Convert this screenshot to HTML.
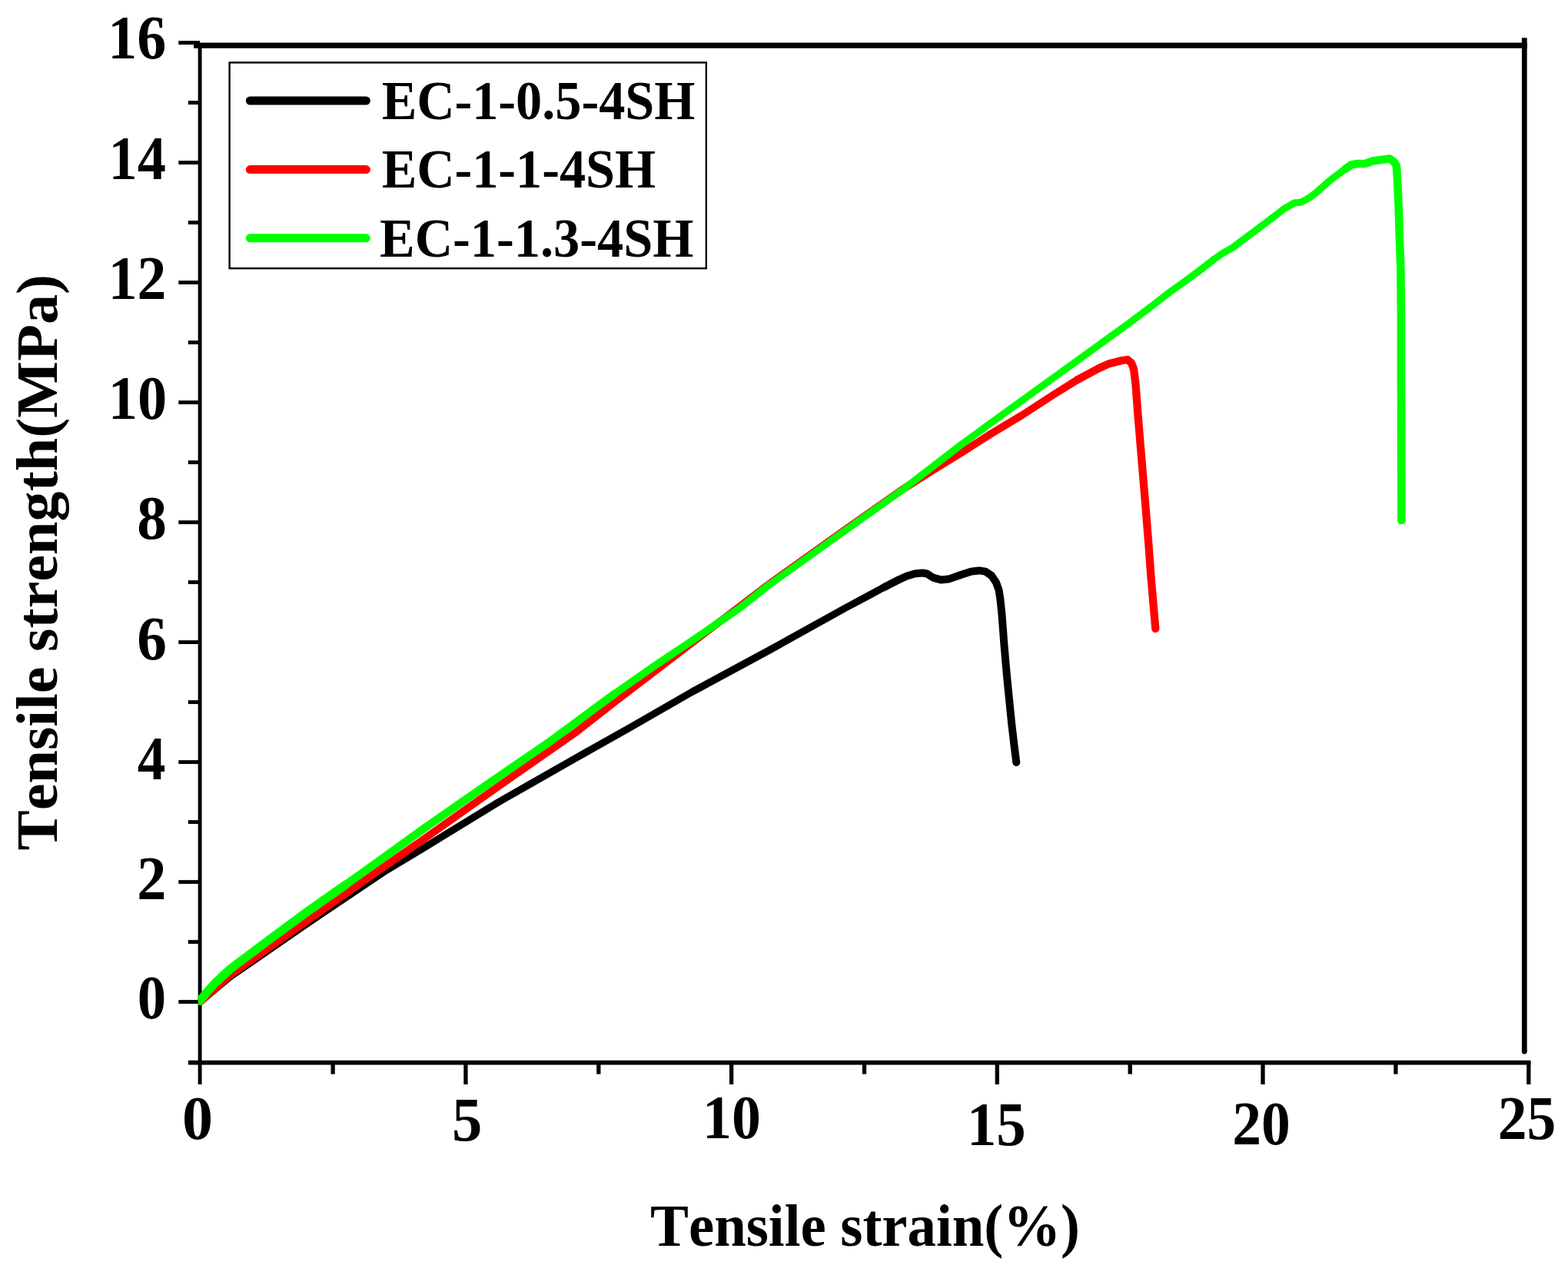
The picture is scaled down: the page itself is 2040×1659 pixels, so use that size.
<!DOCTYPE html>
<html lang="en">
<head>
<meta charset="utf-8">
<title>Tensile strength vs tensile strain</title>
<style>
html,body{margin:0;padding:0;background:#fff;}
body{width:2040px;height:1659px;overflow:hidden;}
svg{display:block;}
</style>
</head>
<body>
<svg width="2040" height="1659" viewBox="0 0 2040 1659">
<rect x="0" y="0" width="2040" height="1659" fill="#fff"/>
<g id="axes" stroke="#000" fill="none" stroke-linecap="butt">
<line x1="260.1" y1="56" x2="260.1" y2="1411" stroke-width="4.9"/>
<line x1="252" y1="59.2" x2="1987" y2="59.2" stroke-width="7.2"/>
<line x1="1983.3" y1="49.3" x2="1983.3" y2="1368.2" stroke-width="6.7"/>
<circle cx="1983.3" cy="1368.2" r="3.35" fill="#000" stroke="none"/>
<line x1="245" y1="1382.6" x2="1991.5" y2="1382.6" stroke-width="5.6"/>
<line x1="232.3" y1="1303.6" x2="260" y2="1303.6" stroke-width="4.9"/>
<line x1="232.3" y1="1147.6" x2="260" y2="1147.6" stroke-width="4.9"/>
<line x1="232.3" y1="991.6" x2="260" y2="991.6" stroke-width="4.9"/>
<line x1="232.3" y1="835.6" x2="260" y2="835.6" stroke-width="4.9"/>
<line x1="232.3" y1="679.6" x2="260" y2="679.6" stroke-width="4.9"/>
<line x1="232.3" y1="523.6" x2="260" y2="523.6" stroke-width="4.9"/>
<line x1="232.3" y1="367.6" x2="260" y2="367.6" stroke-width="4.9"/>
<line x1="232.3" y1="211.6" x2="260" y2="211.6" stroke-width="4.9"/>
<line x1="232.3" y1="55.6" x2="260" y2="55.6" stroke-width="4.9"/>
<line x1="244.8" y1="1225.6" x2="260" y2="1225.6" stroke-width="4.9"/>
<line x1="244.8" y1="1069.6" x2="260" y2="1069.6" stroke-width="4.9"/>
<line x1="244.8" y1="913.6" x2="260" y2="913.6" stroke-width="4.9"/>
<line x1="244.8" y1="757.6" x2="260" y2="757.6" stroke-width="4.9"/>
<line x1="244.8" y1="601.6" x2="260" y2="601.6" stroke-width="4.9"/>
<line x1="244.8" y1="445.6" x2="260" y2="445.6" stroke-width="4.9"/>
<line x1="244.8" y1="289.6" x2="260" y2="289.6" stroke-width="4.9"/>
<line x1="244.8" y1="133.6" x2="260" y2="133.6" stroke-width="4.9"/>
<line x1="605.9" y1="1382" x2="605.9" y2="1411" stroke-width="5.3"/>
<line x1="951.6" y1="1382" x2="951.6" y2="1411" stroke-width="5.3"/>
<line x1="1297.3" y1="1382" x2="1297.3" y2="1411" stroke-width="5.3"/>
<line x1="1643.0" y1="1382" x2="1643.0" y2="1411" stroke-width="5.3"/>
<line x1="1988.8" y1="1382" x2="1988.8" y2="1411" stroke-width="5.3"/>
<line x1="433.1" y1="1382" x2="433.1" y2="1397.6" stroke-width="5.3"/>
<line x1="778.8" y1="1382" x2="778.8" y2="1397.6" stroke-width="5.3"/>
<line x1="1124.5" y1="1382" x2="1124.5" y2="1397.6" stroke-width="5.3"/>
<line x1="1470.2" y1="1382" x2="1470.2" y2="1397.6" stroke-width="5.3"/>
<line x1="1815.9" y1="1382" x2="1815.9" y2="1397.6" stroke-width="5.3"/>
</g>
<clipPath id="plotclip"><rect x="257.7" y="0" width="1800" height="1659"/></clipPath>
<g id="curves" clip-path="url(#plotclip)" fill="none" stroke-linecap="round" stroke-linejoin="round">
<polyline points="260.4,1303.5 300.0,1270.5 400.0,1201.3 500.0,1134.0 548.0,1105.3 648.0,1044.0 748.0,987.0 820.0,946.5 900.0,900.5 1000.0,846.5 1100.0,791.0 1130.0,775.0 1150.0,764.2" stroke="#000" stroke-width="9.4"/>
<polyline points="1150.0,764.2 1170.0,754.0 1180.0,749.5 1190.0,746.5 1200.0,745.5 1206.0,746.5 1214.0,751.6 1224.0,754.4 1234.0,753.6 1250.0,748.0 1264.0,743.6 1274.0,742.4 1282.0,743.6 1290.0,749.0 1296.0,758.0 1299.6,768.0 1301.4,780.0 1303.5,800.0 1306.5,840.0 1310.0,880.0 1313.0,910.0 1316.0,940.0 1319.5,970.0 1322.3,992.0" stroke="#000" stroke-width="10.0"/>
<polyline points="260.4,1303.5 300.0,1268.5 400.0,1197.8 500.0,1127.6 548.0,1094.3 648.0,1023.5 748.0,953.8 800.0,913.2 900.0,836.7 1000.0,760.5 1100.0,689.0 1174.0,637.0 1215.0,611.0 1250.0,589.5 1290.0,564.0 1330.0,540.0 1370.0,514.0 1402.0,494.0" stroke="#f00" stroke-width="9.8"/>
<polyline points="1402.0,494.0 1430.0,479.0 1442.0,473.6 1460.0,469.0 1467.0,468.0 1472.0,472.4 1475.0,480.0 1477.5,500.0 1480.5,540.0 1485.5,600.0 1490.5,660.0 1494.5,710.0 1497.6,752.0 1503.3,818.0" stroke="#f00" stroke-width="10.3"/>
<polyline points="260.4,1302.0 270.0,1290.0 280.0,1279.0 300.0,1260.5 350.0,1223.0 400.0,1186.2 450.0,1151.0" stroke="#0f0" stroke-width="11.4"/>
<polyline points="450.0,1151.0 500.0,1115.2 548.0,1080.5 600.0,1044.4 648.0,1011.0 713.0,966.7 800.0,902.5" stroke="#0f0" stroke-width="10.5"/>
<polyline points="800.0,902.5 850.0,867.5 900.0,834.0 964.0,790.0 1000.0,761.5" stroke="#0f0" stroke-width="9.8"/>
<polyline points="1000.0,761.5 1100.0,690.0 1174.0,637.5 1250.0,579.0 1280.0,557.0 1427.5,450.5 1470.0,419.8 1500.0,397.2 1520.0,381.5 1540.0,367.3 1560.0,352.5 1580.0,337.0 1590.0,330.0 1604.0,322.0 1620.0,310.0 1640.0,295.0 1660.0,280.0 1670.0,272.0 1684.0,264.0 1693.0,263.0 1704.0,257.0 1712.0,251.0 1730.0,235.0 1750.0,220.0" stroke="#0f0" stroke-width="9.2"/>
<polyline points="1750.0,220.0 1758.0,214.4 1766.0,213.0 1776.0,213.0 1786.0,209.6 1800.0,207.4 1808.0,206.6 1814.0,211.0 1817.0,216.0 1818.3,240.0 1819.7,270.0 1820.9,310.0 1822.3,350.0 1822.9,410.0 1822.9,482.0 1823.3,677.0" stroke="#0f0" stroke-width="10.6"/>
</g>
<g id="legend">
<rect x="298.6" y="81.4" width="620.2" height="267.8" fill="none" stroke="#000" stroke-width="2.4"/>
<line x1="325.3" y1="131.0" x2="476.3" y2="131.0" stroke="#000" stroke-width="11" stroke-linecap="round"/>
<line x1="325.3" y1="220.6" x2="476.3" y2="220.6" stroke="#f00" stroke-width="11" stroke-linecap="round"/>
<line x1="325.3" y1="309.8" x2="476.3" y2="309.8" stroke="#0f0" stroke-width="11" stroke-linecap="round"/>
</g>
<g id="labels" font-family="'Liberation Serif', serif" font-weight="bold" fill="#000" style="font-kerning:none">
<text transform="translate(496.66,155.00) scale(0.9420,1)" font-size="72.5">EC-1-0.5-4SH</text>
<text transform="translate(496.66,244.40) scale(0.9415,1)" font-size="72.5">EC-1-1-4SH</text>
<text transform="translate(494.06,333.60) scale(0.9434,1)" font-size="72.5">EC-1-1.3-4SH</text>
<text transform="translate(140.37,76.20) scale(0.9384,1)" font-size="81">16</text>
<text transform="translate(141.49,233.00) scale(0.9178,1)" font-size="81">14</text>
<text transform="translate(140.80,389.00) scale(0.9333,1)" font-size="81">12</text>
<text transform="translate(140.73,544.80) scale(0.9444,1)" font-size="81">10</text>
<text transform="translate(178.14,701.20) scale(0.9543,1)" font-size="81">8</text>
<text transform="translate(178.14,858.20) scale(0.9543,1)" font-size="81">6</text>
<text transform="translate(178.69,1013.60) scale(0.9053,1)" font-size="81">4</text>
<text transform="translate(178.18,1169.60) scale(0.9412,1)" font-size="81">2</text>
<text transform="translate(178.83,1325.20) scale(0.9235,1)" font-size="81">0</text>
<text transform="translate(237.04,1481.60) scale(0.9882,1)" font-size="81">0</text>
<text transform="translate(588.09,1484.20) scale(0.9706,1)" font-size="81">5</text>
<text transform="translate(913.98,1481.20) scale(0.9361,1)" font-size="81">10</text>
<text transform="translate(1257.90,1490.20) scale(0.9500,1)" font-size="81">15</text>
<text transform="translate(1603.20,1488.80) scale(0.9333,1)" font-size="81">20</text>
<text transform="translate(1948.80,1482.20) scale(0.9333,1)" font-size="81">25</text>
<text transform="translate(846.05,1620.80) scale(0.9471,1)" font-size="79">Tensile strain(%)</text>
<text transform="translate(73.50,1106.53) rotate(-90) scale(1.0297,1)" font-size="76">Tensile strength(MPa)</text>
</g>
</svg>
</body>
</html>
